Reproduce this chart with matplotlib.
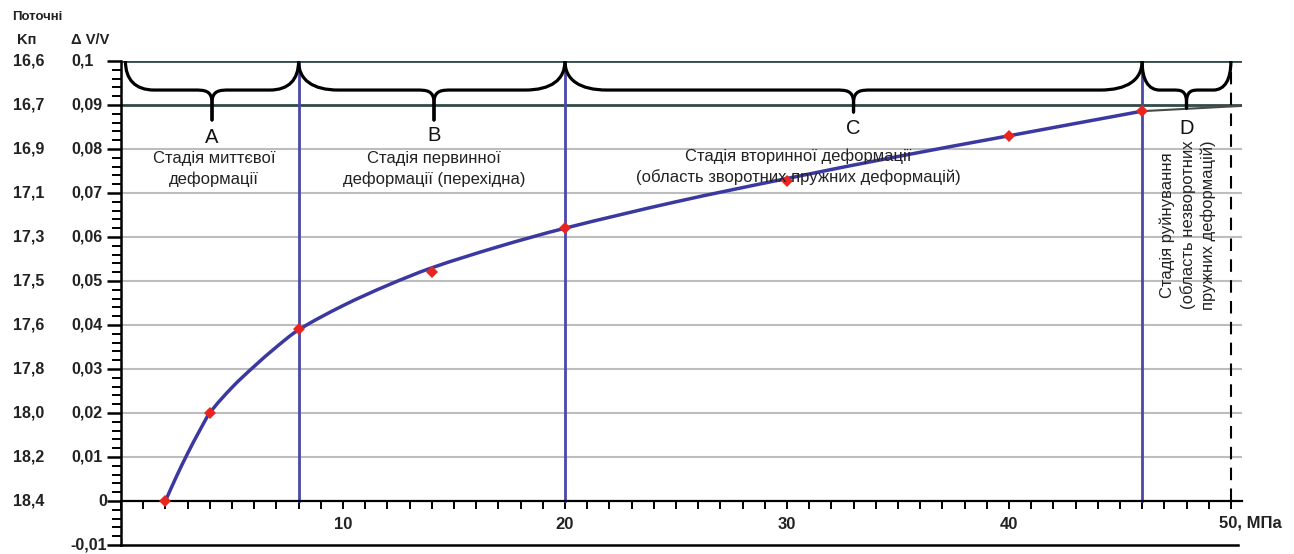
import matplotlib
matplotlib.use("Agg")
import matplotlib.pyplot as plt
from matplotlib.path import Path
from matplotlib.patches import PathPatch
from matplotlib.ticker import MultipleLocator, FixedLocator

plt.rcParams["font.family"] = ["Liberation Sans", "DejaVu Sans"]

# measured points (stress, MPa -> relative volume change)
stress = [2, 4, 8, 14, 20, 30, 40, 46]
dv_v = [0.0, 0.020, 0.039, 0.052, 0.062, 0.0728, 0.083, 0.0886]

# fitted curve
curve_x = [2, 2.5, 3, 3.5, 4, 5, 6, 7, 8, 10, 12, 14, 17, 20, 25, 30, 35, 40, 46]
curve_y = [0.0, 0.0056, 0.0108, 0.0156, 0.0200, 0.0258, 0.0306, 0.0350, 0.0389,
           0.0444, 0.0490, 0.0530, 0.0578, 0.0620, 0.0680, 0.0733, 0.0783, 0.0830, 0.0886]

# thin extension of the curve past the last point
ext_x = [46, 50.5]
ext_y = [0.0886, 0.0898]

stage_bounds = [8, 20, 46]
y_levels = [0.1, 0.09, 0.08, 0.07, 0.06, 0.05, 0.04, 0.03, 0.02, 0.01, 0.0, -0.01]
dv_labels = ["0,1", "0,09", "0,08", "0,07", "0,06", "0,05", "0,04", "0,03",
             "0,02", "0,01", "0", "-0,01"]
kp_labels = ["16,6", "16,7", "16,9", "17,1", "17,3", "17,5", "17,6", "17,8",
             "18,0", "18,2", "18,4", ""]
x_major = [10, 20, 30, 40]
x_labels = ["10", "20", "30", "40"]

W, H = 1294, 554
L, R, T, B = 121, 1242, 61, 545

fig = plt.figure(figsize=(W / 100, H / 100), dpi=100)
fig.patch.set_facecolor("white")
ax = fig.add_axes([L / W, 1 - B / H, (R - L) / W, (B - T) / H])
ax.set_xlim(0, 50.5)
ax.set_ylim(-0.01, 0.1)

for s in ["top", "right"]:
    ax.spines[s].set_visible(False)
ax.spines["bottom"].set_position(("data", 0))
ax.spines["bottom"].set_linewidth(1.6)
ax.spines["left"].set_linewidth(1.8)

ax.xaxis.set_major_locator(FixedLocator(x_major + [50]))
ax.set_xticklabels(x_labels + [""])
ax.xaxis.set_minor_locator(MultipleLocator(1))
ax.tick_params(axis="x", which="both", direction="out", length=5.5, width=1.4,
               labelsize=12, pad=6)
for lab in ax.get_xticklabels():
    lab.set_fontweight("bold")
    lab.set_color("#222222")

ax.yaxis.set_major_locator(MultipleLocator(0.01))
ax.yaxis.set_minor_locator(MultipleLocator(0.002))
ax.tick_params(axis="y", which="major", direction="out", length=10, width=1.8)
ax.tick_params(axis="y", which="minor", direction="out", length=6.5, width=1.4)
ax.set_yticklabels([])

# horizontal grid
for v in y_levels[2:10]:
    ax.plot([0, 50.5], [v, v], color="#bdbdbd", lw=1.5, zorder=1)
for v in y_levels[:2]:
    ax.plot([0, 50.5], [v, v], color="#2f4a48", lw=2.0, zorder=2)
ax.plot([0, 50.3], [-0.01, -0.01], color="black", lw=1.8, clip_on=False, zorder=2)

# stage boundaries
for xb in stage_bounds:
    ax.plot([xb, xb], [0, 0.1], color="#4a48a8", lw=2.0, zorder=2)
ax.plot([50, 50], [0, 0.1], color="black", lw=1.5, dashes=(6, 4), zorder=2)


def smooth_path(xs, ys):
    # cubic Bezier segments through the read points
    n = len(xs)
    m = []
    for i in range(n):
        a = max(i - 1, 0)
        b = min(i + 1, n - 1)
        m.append((ys[b] - ys[a]) / (xs[b] - xs[a]))
    verts = [(xs[0], ys[0])]
    codes = [Path.MOVETO]
    for i in range(n - 1):
        h = xs[i + 1] - xs[i]
        verts += [(xs[i] + h / 3, ys[i] + m[i] * h / 3),
                  (xs[i + 1] - h / 3, ys[i + 1] - m[i + 1] * h / 3),
                  (xs[i + 1], ys[i + 1])]
        codes += [Path.CURVE4] * 3
    return Path(verts, codes)


ax.add_patch(PathPatch(smooth_path(curve_x, curve_y), facecolor="none",
                       edgecolor="#3b39a0", lw=2.5, capstyle="round", zorder=3))
ax.plot(ext_x, ext_y, color="#4a4a4a", lw=1.5, zorder=3)
ax.plot(stress, dv_v, linestyle="none", marker="D", markersize=6.5,
        color="#e8261f", markeredgewidth=0, zorder=4)


def brace(x0, x1, xm, tip, r1, r2=0.8, yh=0.0934, yc=0.0905):
    for a, sgn in ((x0, 1), (x1, -1)):
        verts = [(a, 0.1), (a, yh + 0.35 * (0.1 - yh)), (a + sgn * 0.35 * r1, yh),
                 (a + sgn * r1, yh), (xm - sgn * r2, yh), (xm - sgn * 0.45 * r2, yh),
                 (xm, yh), (xm, yc), (xm, tip)]
        codes = [Path.MOVETO, Path.CURVE4, Path.CURVE4, Path.CURVE4, Path.LINETO,
                 Path.CURVE4, Path.CURVE4, Path.CURVE4, Path.LINETO]
        ax.add_patch(PathPatch(Path(verts, codes), facecolor="none",
                               edgecolor="black", lw=2.3, capstyle="round",
                               joinstyle="round", zorder=5))


brace(0.2, 8, 4.1, 0.0866, 1.3)
brace(8, 20, 14.1, 0.0866, 1.8)
brace(20, 46, 33.0, 0.0884, 1.9)
brace(46, 50, 48.0, 0.0893, 0.8, r2=0.6)

big = dict(fontsize=14.5, ha="center", va="center", color="#111111", zorder=6)
ax.text(4.1, 0.0826, "A", **big)
ax.text(14.1, 0.0830, "B", **big)
ax.text(33.0, 0.0847, "C", **big)
ax.text(48.0, 0.0847, "D", **big)

small = dict(fontsize=12, ha="center", va="center", color="#222222",
             linespacing=1.4, zorder=6)
ax.text(4.2, 0.0754, "Стадія миттєвої\nдеформації", **small)
ax.text(14.1, 0.0754, "Стадія первинної\nдеформації (перехідна)", **small)
ax.text(30.5, 0.0759, "Стадія вторинної деформації\n(область зворотних пружних деформацій)",
        **small)
ax.text(48.05, 0.0627, "Стадія руйнування\n(область незворотних\nпружних деформацій)",
        rotation=90, multialignment="center", **small)

# left label columns
def fx(px):
    return px / W


def fy(py):
    return 1 - py / H


lab_style = dict(va="center", fontsize=11.5, fontweight="bold", color="#222222")
for v, dl, kl in zip(y_levels, dv_labels, kp_labels):
    py = 501 - v * 4400
    if dl in ("0", "-0,01"):
        fig.text(fx(107), fy(py), dl, ha="right", **lab_style)
    else:
        fig.text(fx(71), fy(py), dl, ha="left", **lab_style)
    if kl:
        fig.text(fx(29), fy(py), kl, ha="center", **lab_style)

fig.text(fx(37), fy(17), "Поточні", ha="center", va="center", fontsize=9.5,
         fontweight="bold", color="#222222")
fig.text(fx(27), fy(40), "Kп", ha="center", va="center", fontsize=10.5,
         fontweight="bold", color="#222222")
fig.text(fx(90), fy(40), "Δ V/V", ha="center", va="center", fontsize=10.5,
         fontweight="bold", color="#222222")

ax.text(49.45, -0.0049, "50, МПа", ha="left", va="center", fontsize=12,
        fontweight="bold", color="#222222")

fig.savefig("out.png", dpi=100, facecolor="white")
